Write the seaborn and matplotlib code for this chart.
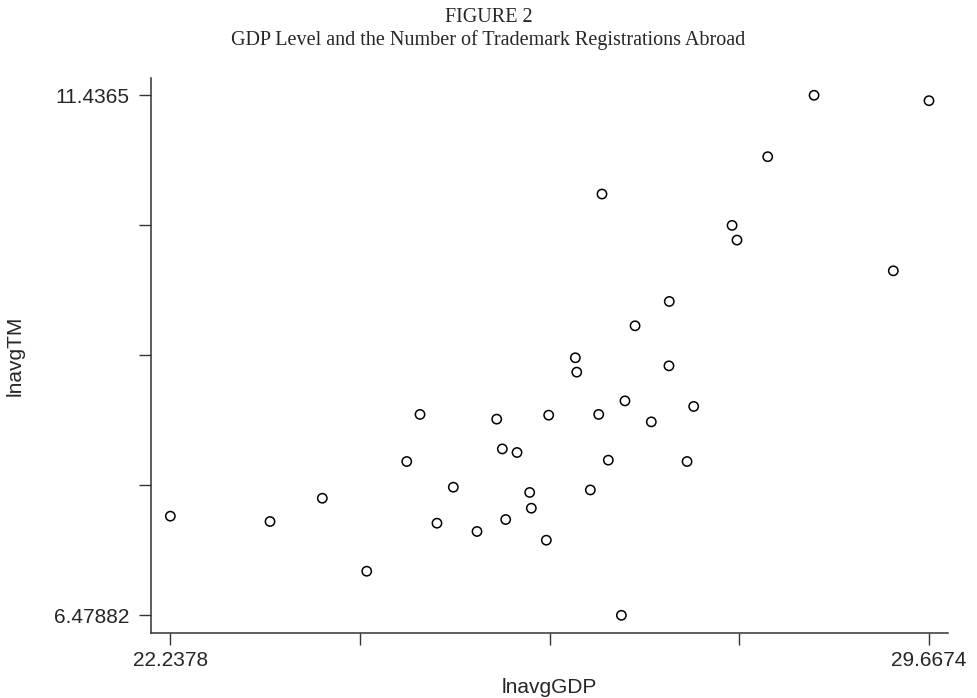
import matplotlib
matplotlib.use('Agg')
import matplotlib.pyplot as plt
import numpy as np
import pandas as pd
import seaborn as sns

# значения
lnavgGDP = [28.542, 29.6674, 28.088, 26.465, 27.739, 27.787, 29.318, 27.124,
            26.789, 26.204, 26.218, 27.121, 24.683, 25.434, 25.943, 24.553,
            25.489, 25.633, 25.009, 25.757, 25.773, 25.522, 24.849, 25.241,
            25.920, 22.2378, 23.214, 23.726, 24.161, 26.690, 27.363, 26.433,
            26.948, 26.527, 27.298, 26.351, 26.655]
lnavgTM = [11.4365, 11.385, 10.851, 10.495, 10.196, 10.056, 9.763, 9.471,
           9.239, 8.934, 8.797, 8.857, 8.394, 8.349, 8.387, 7.945,
           8.065, 8.031, 7.700, 7.650, 7.500, 7.392, 7.357, 7.278,
           7.195, 7.424, 7.373, 7.595, 6.899, 8.523, 8.470, 8.394,
           8.323, 7.958, 7.945, 7.674, 6.47882]

x_labels = ['22.2378', '', '', '', '29.6674']
y_labels = ['6.47882', '', '', '', '11.4365']

df = pd.DataFrame({'lnavgGDP': lnavgGDP, 'lnavgTM': lnavgTM})

sns.set_style('ticks')
plt.rcParams['font.family'] = ['Liberation Sans', 'DejaVu Sans']

fig = plt.figure(figsize=(9.77, 6.98), dpi=100)
ax = fig.add_axes([0.1546, 0.0931, 0.8157, 0.7952])

sns.scatterplot(data=df, x='lnavgGDP', y='lnavgTM', ax=ax, marker='o',
                s=45, facecolor='none', edgecolor='black', linewidth=1.1)

xmin, xmax = min(lnavgGDP), max(lnavgGDP)
ymin, ymax = min(lnavgTM), max(lnavgTM)
ax.set_xticks(np.linspace(xmin, xmax, 5))
ax.set_xticklabels(x_labels)
ax.set_yticks(np.linspace(ymin, ymax, 5))
ax.set_yticklabels(y_labels)

dx = (xmax - xmin) / 758.7
dy = (ymax - ymin) / 519.7
ax.set_xlim(xmin - 19.3 * dx, xmax + 19 * dx)
ax.set_ylim(ymin - 17.7 * dy, ymax + 17.3 * dy)

ax.tick_params(axis='both', length=8.6, width=1, color='#333333',
               labelsize=15, direction='out')
ax.tick_params(axis='x', pad=4)
ax.tick_params(axis='y', pad=7)

for s in ['top', 'right']:
    ax.spines[s].set_visible(False)
for s in ['left', 'bottom']:
    ax.spines[s].set_linewidth(1.1)
    ax.spines[s].set_color('#333333')

ax.set_xlabel('lnavgGDP', fontsize=15, labelpad=6)
ax.set_ylabel('lnavgTM', fontsize=15, labelpad=21)

fig.text(0.5, 1 - 17 / 698, 'FIGURE 2', ha='center', va='center',
         family='Liberation Serif', fontsize=14.5)
fig.text(0.5, 1 - 40 / 698, 'GDP Level and the Number of Trademark Registrations Abroad',
         ha='center', va='center', family='Liberation Serif', fontsize=14.5)

plt.savefig('out.png', dpi=100)
